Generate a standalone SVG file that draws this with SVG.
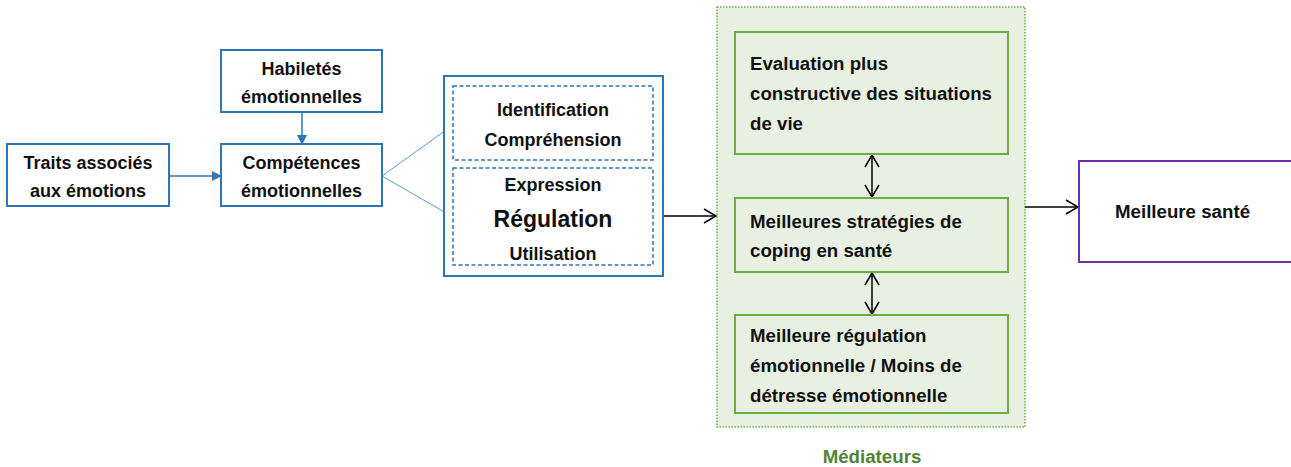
<svg xmlns="http://www.w3.org/2000/svg" width="1291" height="467" viewBox="0 0 1291 467">
<style>
text{font-family:"Liberation Sans",Arial,sans-serif;font-weight:bold;font-size:18px;fill:#111}
.c{text-anchor:middle}
.g{font-size:18.7px}
.blue{fill:#fff;stroke:#2E75B6;stroke-width:2}
.dash{fill:#fff;stroke:#2E75B6;stroke-width:1.5;stroke-dasharray:4 2.5}
.green{fill:#E8F1E1;stroke:#70AD47;stroke-width:2}
.conn{fill:none;stroke-width:1.5}
</style>
<defs>
<marker id="tri" markerWidth="10" markerHeight="10" refX="9" refY="5" orient="auto" markerUnits="userSpaceOnUse">
<path d="M0,0 L10,5 L0,10 Z" fill="#2E75B6"/>
</marker>
<marker id="open" markerWidth="14" markerHeight="16" refX="13" refY="8" orient="auto-start-reverse" markerUnits="userSpaceOnUse">
<path d="M1,1 L13,8 L1,15" fill="none" stroke="#000" stroke-width="1.5"/>
</marker>
</defs>
<g id="mediateurs">
<rect x="717" y="7" width="308" height="420" fill="#E8F1E1" stroke="#70AD47" stroke-width="1.5" stroke-dasharray="1.5 1.5"/>
<text x="872" y="463" class="c g" style="fill:#538135">Médiateurs</text>
</g>
<g id="connectors">
<line class="conn" x1="169" y1="176" x2="221" y2="176" stroke="#2E75B6" marker-end="url(#tri)"/>
<line class="conn" x1="302" y1="112" x2="302" y2="144" stroke="#2E75B6" marker-end="url(#tri)"/>
<line x1="382" y1="176" x2="453" y2="125" stroke="#5B9BD5" stroke-width="1"/>
<line x1="382" y1="176" x2="453" y2="217" stroke="#5B9BD5" stroke-width="1"/>
<line class="conn" x1="663" y1="216" x2="716" y2="216" stroke="#000" marker-end="url(#open)"/>
<line class="conn" x1="1025" y1="207" x2="1078" y2="207" stroke="#000" marker-end="url(#open)"/>
<line class="conn" x1="872" y1="155" x2="872" y2="197" stroke="#000" marker-start="url(#open)" marker-end="url(#open)"/>
<line class="conn" x1="872" y1="273" x2="872" y2="314" stroke="#000" marker-start="url(#open)" marker-end="url(#open)"/>
</g>
<g id="habiletes">
<rect class="blue" x="221" y="50" width="161" height="62"/>
<text x="301.5" y="75" class="c">Habiletés</text>
<text x="301.5" y="103" class="c">émotionnelles</text>
</g>
<g id="traits">
<rect class="blue" x="7" y="144" width="162" height="62"/>
<text x="88" y="169" class="c">Traits associés</text>
<text x="88" y="197" class="c">aux émotions</text>
</g>
<g id="competences">
<rect class="blue" x="221" y="144" width="161" height="62"/>
<text x="301.5" y="169" class="c">Compétences</text>
<text x="301.5" y="197" class="c">émotionnelles</text>
</g>
<g id="composantes">
<rect class="blue" x="444" y="76" width="219" height="200"/>
<rect class="dash" x="453" y="86" width="200" height="74"/>
<rect class="dash" x="453" y="168" width="200" height="97"/>
<text x="553" y="116" class="c">Identification</text>
<text x="553" y="146" class="c">Compréhension</text>
<text x="553" y="191" class="c">Expression</text>
<text x="553" y="227" class="c" style="font-size:23px">Régulation</text>
<text x="553" y="260" class="c">Utilisation</text>
</g>
<g id="evaluation">
<rect class="green" x="735" y="32" width="273" height="122"/>
<text x="750" y="70" class="g">Evaluation plus</text>
<text x="750" y="100" class="g">constructive des situations</text>
<text x="750" y="130" class="g">de vie</text>
</g>
<g id="coping">
<rect class="green" x="735" y="198" width="273" height="74"/>
<text x="750" y="228" class="g">Meilleures stratégies de</text>
<text x="750" y="257" class="g">coping en santé</text>
</g>
<g id="regulation">
<rect class="green" x="735" y="315" width="273" height="98"/>
<text x="750" y="342" class="g">Meilleure régulation</text>
<text x="750" y="372" class="g">émotionnelle / Moins de</text>
<text x="750" y="402" class="g">détresse émotionnelle</text>
</g>
<g id="sante">
<rect x="1079" y="161" width="220" height="101" fill="#fff" stroke="#7030A0" stroke-width="2"/>
<text x="1115" y="218" class="g">Meilleure santé</text>
</g>
</svg>
